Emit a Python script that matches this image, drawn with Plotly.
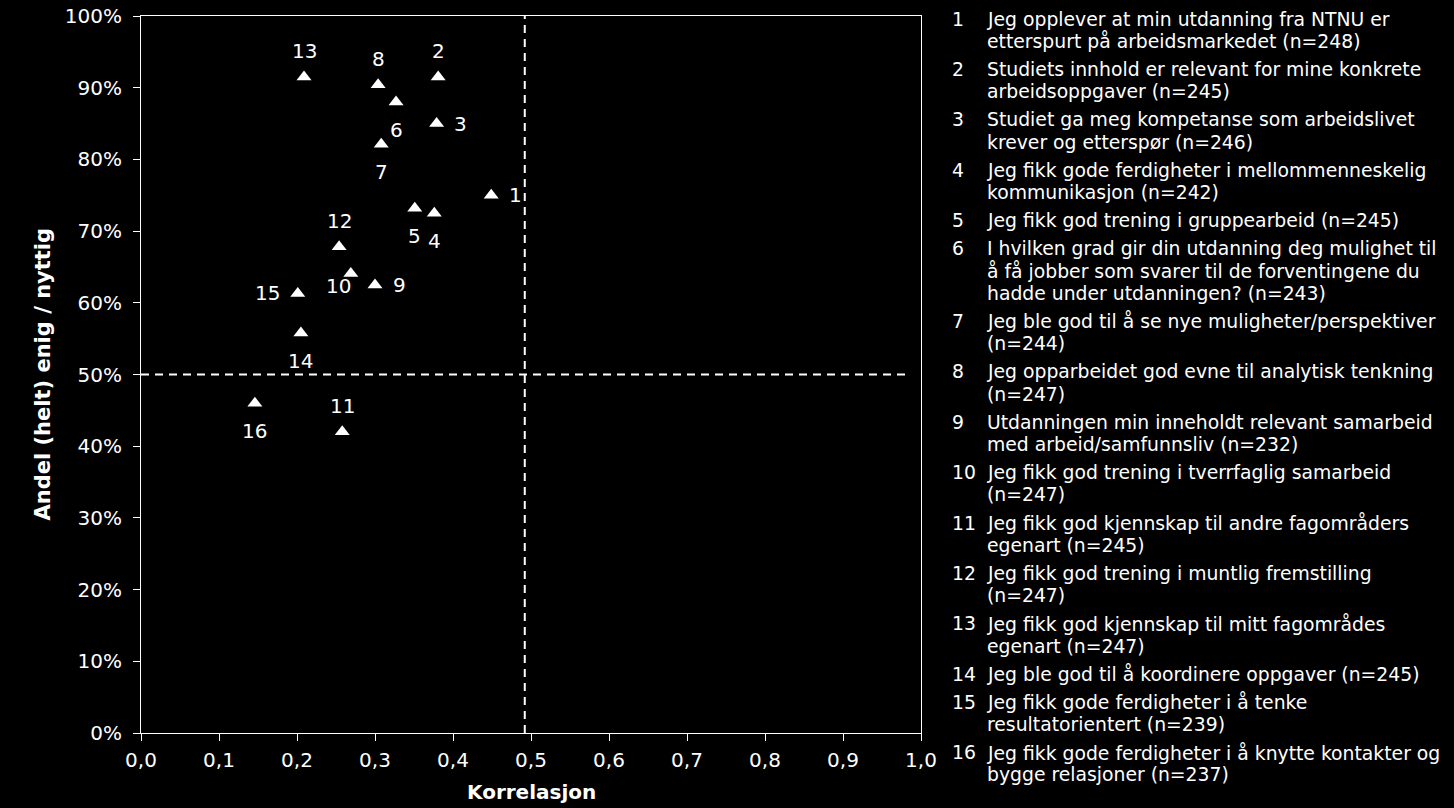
import plotly.graph_objects as go

# Korrelasjon (x) og andel (helt) enig / nyttig (y) per påstand
item_no = list(range(1, 17))
korrelasjon = [0.449, 0.381, 0.379, 0.376, 0.351, 0.327, 0.308, 0.304,
               0.300, 0.269, 0.258, 0.254, 0.209, 0.205, 0.201, 0.146]
andel_enig = [0.750, 0.915, 0.850, 0.725, 0.732, 0.880, 0.821, 0.904,
              0.625, 0.641, 0.420, 0.678, 0.915, 0.558, 0.613, 0.460]

# Referanselinjer
ref_korrelasjon = 0.492
ref_andel = 0.5

# Tekst i forklaringen, linjeskift som i originalen
items = [
    ["Jeg opplever at min utdanning fra NTNU er", "etterspurt på arbeidsmarkedet (n=248)"],
    ["Studiets innhold er relevant for mine konkrete", "arbeidsoppgaver (n=245)"],
    ["Studiet ga meg kompetanse som arbeidslivet", "krever og etterspør (n=246)"],
    ["Jeg fikk gode ferdigheter i mellommenneskelig", "kommunikasjon (n=242)"],
    ["Jeg fikk god trening i gruppearbeid (n=245)"],
    ["I hvilken grad gir din utdanning deg mulighet til", "å få jobber som svarer til de forventingene du",
     "hadde under utdanningen? (n=243)"],
    ["Jeg ble god til å se nye muligheter/perspektiver", "(n=244)"],
    ["Jeg opparbeidet god evne til analytisk tenkning", "(n=247)"],
    ["Utdanningen min inneholdt relevant samarbeid", "med arbeid/samfunnsliv (n=232)"],
    ["Jeg fikk god trening i tverrfaglig samarbeid", "(n=247)"],
    ["Jeg fikk god kjennskap til andre fagområders", "egenart (n=245)"],
    ["Jeg fikk god trening i muntlig fremstilling", "(n=247)"],
    ["Jeg fikk god kjennskap til mitt fagområdes", "egenart (n=247)"],
    ["Jeg ble god til å koordinere oppgaver (n=245)"],
    ["Jeg fikk gode ferdigheter i å tenke", "resultatorientert (n=239)"],
    ["Jeg fikk gode ferdigheter i å knytte kontakter og", "bygge relasjoner (n=237)"],
]

# where each point label sits relative to its marker
label_side = ["right", "top", "right", "bottom", "bottom", "bottom", "bottom", "top",
              "right", "bottomleft", "top", "top", "top", "bottom", "left", "bottom"]
shifts = {"top": (0, 26), "bottom": (0, -28), "right": (24, 0),
          "left": (-30, 0), "bottomleft": (-12, -13)}

FONT = "DejaVu Sans"
W, H = 1454, 808
L, R, T, B = 141, 533, 16, 75
LEG = 18.8

fig = go.Figure()
fig.add_trace(go.Scatter(
    x=korrelasjon, y=andel_enig, mode="markers",
    marker=dict(symbol="triangle-up", size=13, color="white", line=dict(width=0)),
    showlegend=False, hoverinfo="skip",
))

annotations = []
for n, x, y, side in zip(item_no, korrelasjon, andel_enig, label_side):
    dx, dy = shifts[side]
    annotations.append(dict(x=x, y=y, xref="x", yref="y", text=str(n), showarrow=False,
                            xshift=dx, yshift=dy, font=dict(family=FONT, size=20, color="white")))

# forklaring til høyre
line_h, item_gap = 22.4, 28
py = 19
for n, lines in zip(item_no, items):
    annotations.append(dict(x=1, y=1, xref="paper", yref="paper", text=str(n), showarrow=False,
                            xanchor="left", yanchor="middle", xshift=950 - (W - R), yshift=T - py,
                            font=dict(family=FONT, size=LEG, color="white")))
    for i, line in enumerate(lines):
        annotations.append(dict(x=1, y=1, xref="paper", yref="paper", text=line, showarrow=False,
                                xanchor="left", yanchor="middle", xshift=985 - (W - R),
                                yshift=T - py - i * line_h,
                                font=dict(family=FONT, size=LEG, color="white")))
    py += (len(lines) - 1) * line_h + item_gap

# aksetitler
annotations.append(dict(x=0.5, y=0, xref="paper", yref="paper", text="<b>Korrelasjon</b>",
                        showarrow=False, yanchor="middle", yshift=-59,
                        font=dict(family=FONT, size=20, color="white")))
annotations.append(dict(x=0, y=0.5, xref="paper", yref="paper", text="<b>Andel (helt) enig / nyttig</b>",
                        showarrow=False, textangle=-90, xanchor="center", xshift=42 - L,
                        font=dict(family=FONT, size=21, color="white")))

dash = dict(color="white", width=2, dash="8px,6px")
fig.add_shape(type="line", x0=ref_korrelasjon, x1=ref_korrelasjon, y0=0, y1=1, line=dash)
fig.add_shape(type="line", x0=0, x1=0.982, y0=ref_andel, y1=ref_andel, line=dash)

axis_style = dict(showgrid=False, zeroline=False, showline=True, linecolor="white", linewidth=1,
                  mirror=True, ticks="outside", ticklen=7, tickcolor="white",
                  tickfont=dict(family=FONT, size=20, color="white"))

fig.update_xaxes(range=[0, 1], dtick=0.1, tick0=0, tickformat=".1f", ticklabelstandoff=2, **axis_style)
fig.update_yaxes(range=[0, 1], dtick=0.1, tick0=0, tickformat=".0%", ticklabelstandoff=7, **axis_style)

fig.update_layout(
    width=W, height=H, separators=", ",
    margin=dict(l=L, r=R, t=T, b=B, autoexpand=False),
    paper_bgcolor="black", plot_bgcolor="black",
    annotations=annotations,
)

# page has an 8px body margin by default, drop it so the chart fills the window
fig.write_html("out.html", config={"displayModeBar": False},
               post_script="document.body.style.margin='0';"
                           "document.body.style.background='black';")
